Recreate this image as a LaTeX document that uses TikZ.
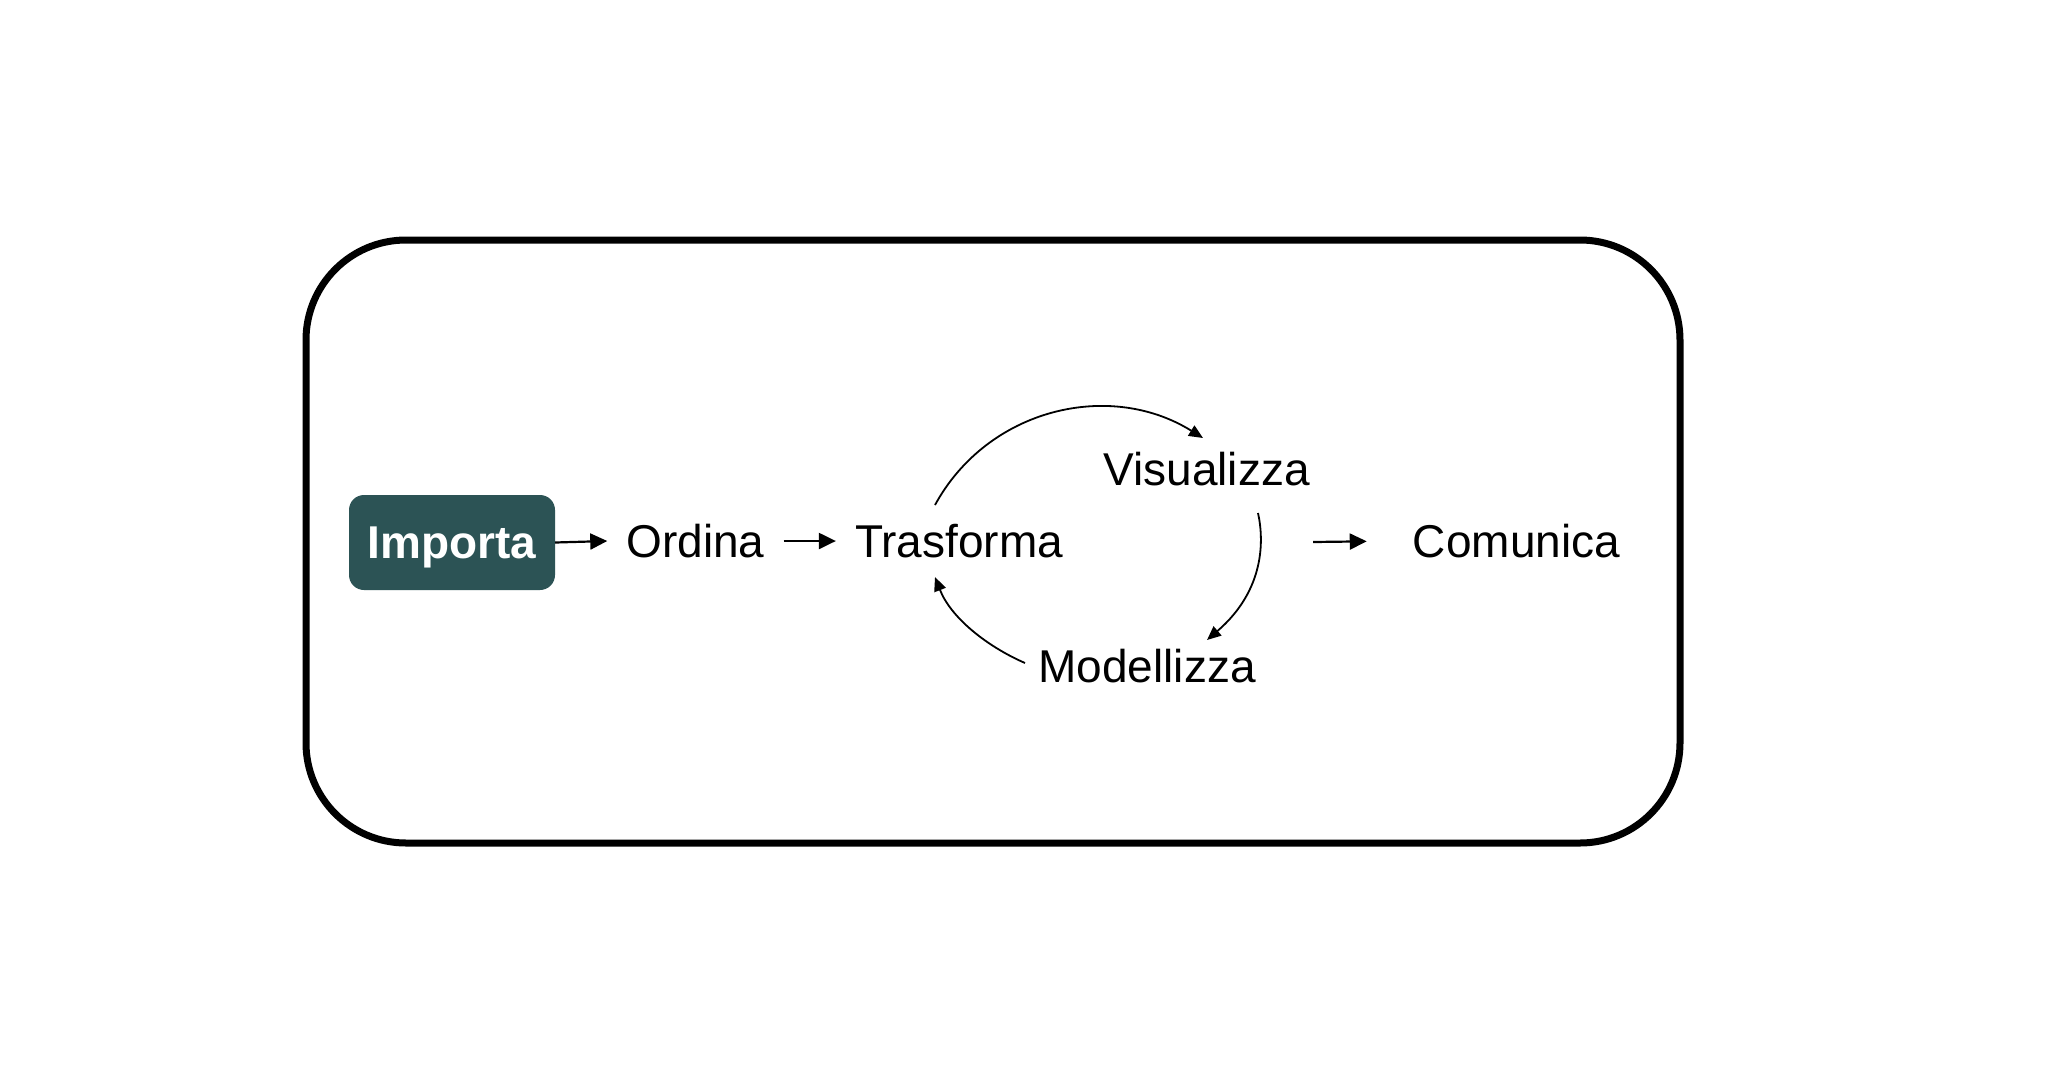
\documentclass[tikz,border=0pt]{standalone}
\usepackage{fontspec}
\setmainfont{Liberation Sans}
\usetikzlibrary{arrows.meta,calc}
\definecolor{impfill}{RGB}{44,83,85}
\begin{document}
\begin{tikzpicture}[x=1pt,y=-1pt,
  lbl/.style={anchor=base, inner xsep=19pt, inner ysep=0pt, text height=32pt, text depth=0pt,
              font=\fontsize{46pt}{55pt}\selectfont},
  impbox/.style={fill=impfill, text=white, rounded corners=15pt, minimum width=206pt,
              minimum height=95pt, inner sep=0pt, text height=32pt, text depth=0pt,
              font=\fontsize{46pt}{55pt}\selectfont\bfseries},
  straight/.style={line width=2.2pt, -{Triangle[length=17pt,width=16pt]}},
  loop/.style={line width=1.8pt, -{Triangle[length=14pt,width=12pt]}},
  frame/.style={draw, line width=7pt, rounded corners=100pt, minimum width=1374pt,
              minimum height=603pt, inner sep=0pt}
]
\fill[white] (0,0) rectangle (2057,1085);
\useasboundingbox (0,0) rectangle (2057,1085);

\node[frame] (fr) at (993,541.5) {};

\node[impbox] (imp) at (452,542.5) {Importa};
\node[lbl] (ord) at (695.5,557) {Ordina};
\node[lbl] (tra) at (959,557) {Trasforma};
\node[lbl] (vis) at (1206.5,485) {Visualizza};
\node[lbl] (mod) at (1147,682) {Modellizza};
\node[lbl] (com) at (1516.5,557) {Comunica};
\coordinate (vc) at (1313,542);

\draw[straight] (imp.east) -- (ord.west);
\draw[straight] (ord.east) -- (tra.west);
\draw[straight, shorten >=27pt] (vc) -- (com.west);

\draw[loop] ($(tra.base)+(-24,-52)$) .. controls +(53,-97) and +(-93,-58) .. ($(vis.base)+(-3.5,-47)$);
\draw[loop] ($(vis.base)+(51.5,28)$) .. controls +(6,27) and +(58,-50) .. ($(mod.base)+(60,-42)$);
\draw[loop] ($(mod.base)+(-122,-19)$) .. controls +(-39,-17) and +(15.5,40) .. ($(tra.base)+(-24,20)$);
\end{tikzpicture}
\end{document}
